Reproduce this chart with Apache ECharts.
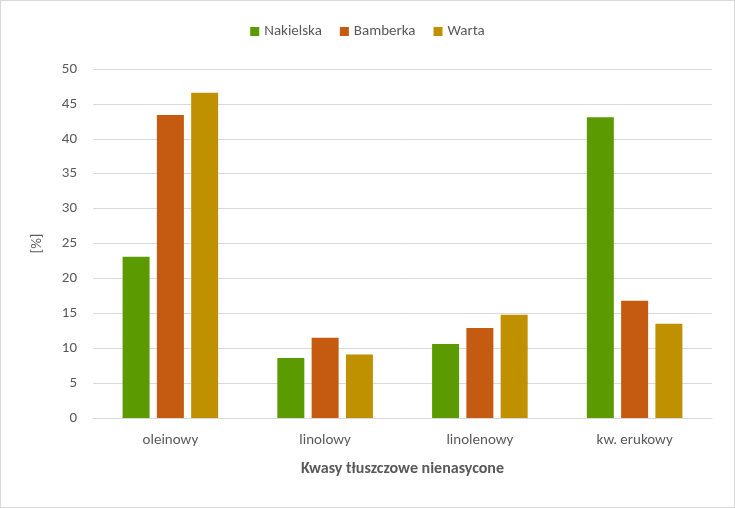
<!DOCTYPE html>
<html lang="pl">
<head>
<meta charset="UTF-8">
<title>Kwasy tłuszczowe</title>
<script src="https://cdn.jsdelivr.net/npm/echarts@6/dist/echarts.min.js"></script>
<style>
  html, body { margin: 0; padding: 0; background: #fff; }
  #chart { width: 733px; height: 506px; border: 1px solid #d9d9d9; }
</style>
</head>
<body>
<div id="chart"></div>
<script>
var categories = ['oleinowy', 'linolowy', 'linolenowy', 'kw. erukowy'];
var nakielska = [23.1, 8.6, 10.6, 43.1];
var bamberka = [43.4, 11.5, 12.9, 16.8];
var warta = [46.6, 9.1, 14.8, 13.5];

var chart = echarts.init(document.getElementById('chart'));
var font = 'Calibri, Carlito, "Liberation Sans", sans-serif';
function bar(name, data, color) {
  return { name: name, type: 'bar', data: data, barWidth: 27, barGap: '27%',
           itemStyle: { color: color } };
}
chart.setOption({
  animation: false,
  textStyle: { fontFamily: font },
  legend: {
    top: 18, left: 'center', itemWidth: 9, itemHeight: 9, itemGap: 18, icon: 'rect',
    textStyle: { color: '#595959', fontSize: 15 }
  },
  grid: { left: 92, right: 22, top: 68, bottom: 89 },
  xAxis: {
    type: 'category', data: categories,
    name: 'Kwasy tłuszczowe nienasycone', nameLocation: 'middle', nameGap: 43,
    nameTextStyle: { color: '#595959', fontSize: 16, fontWeight: 'bold' },
    axisLine: { lineStyle: { color: '#d9d9d9' } }, axisTick: { show: false },
    axisLabel: { color: '#595959', fontSize: 15, margin: 15 }
  },
  yAxis: {
    type: 'value', min: 0, max: 50, interval: 5,
    name: '[%]', nameLocation: 'middle', nameGap: 48, nameRotate: 90,
    nameTextStyle: { color: '#595959', fontSize: 15 },
    axisLabel: { color: '#595959', fontSize: 15, margin: 16 },
    splitLine: { lineStyle: { color: '#d9d9d9' } }
  },
  series: [
    bar('Nakielska', nakielska, '#5b9a00'),
    bar('Bamberka', bamberka, '#c55a11'),
    bar('Warta', warta, '#bf9000')
  ]
});
</script>
</body>
</html>
